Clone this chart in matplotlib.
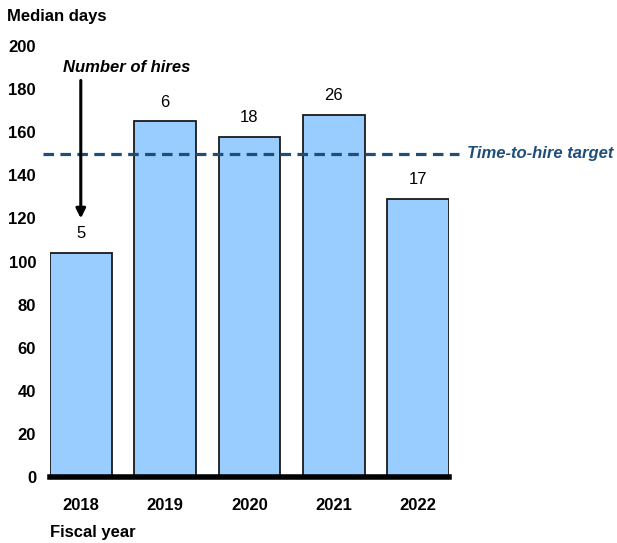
import matplotlib
matplotlib.use('Agg')
import matplotlib.pyplot as plt

plt.rcParams['font.family'] = ['Liberation Sans', 'DejaVu Sans']

years = ['2018', '2019', '2020', '2021', '2022']
median_days = [104, 165, 158, 168, 129]
hires = [5, 6, 18, 26, 17]
target_days = 150
y_ticks = [0, 20, 40, 60, 80, 100, 120, 140, 160, 180, 200]

BAR_COLOR = '#99ccff'
TARGET_COLOR = '#1f4e79'
BAR_WIDTH = 0.73
FS = 12

fig = plt.figure(figsize=(6.17, 5.43), dpi=100)
ax = fig.add_axes([50 / 617, (543 - 477) / 543, 399 / 617, 431 / 543])

x = list(range(len(years)))
ax.bar(x, median_days, width=BAR_WIDTH, color=BAR_COLOR,
       edgecolor='#1a1a1a', linewidth=1.3, zorder=2)

for xi, val, n in zip(x, median_days, hires):
    ax.text(xi, val + 9, str(n), ha='center', va='center', fontsize=FS)

# target line runs a little past the bars
ax.plot([-0.45, 4.48], [target_days, target_days], color=TARGET_COLOR,
        linestyle=(0, (3.3, 2.0)), linewidth=2.3, clip_on=False, zorder=3)
ax.text(4.58, target_days, 'Time-to-hire target', color=TARGET_COLOR,
        fontsize=FS, fontweight='bold', fontstyle='italic',
        ha='left', va='center', clip_on=False)

# number of hires annotation
ax.annotate('', xy=(0, 120), xytext=(0, 184),
            arrowprops=dict(arrowstyle='-|>', color='black', lw=2.2,
                            mutation_scale=14, shrinkA=0, shrinkB=0))
ax.text(0.54, 190, 'Number of hires', ha='center', va='center',
        fontsize=FS, fontweight='bold', fontstyle='italic')

ax.set_xlim(-BAR_WIDTH / 2, len(years) - 1 + BAR_WIDTH / 2)
ax.set_ylim(0, 200)
ax.set_yticks(y_ticks)
ax.set_xticks(x)
ax.set_xticklabels(years)
for lbl in ax.get_xticklabels() + ax.get_yticklabels():
    lbl.set_fontweight('bold')
    lbl.set_fontsize(FS)
ax.tick_params(axis='both', length=0)
ax.tick_params(axis='y', pad=10)
ax.tick_params(axis='x', pad=15)

for side in ['top', 'right', 'left']:
    ax.spines[side].set_visible(False)
ax.spines['bottom'].set_linewidth(4)
ax.spines['bottom'].set_color('black')
ax.spines['bottom'].set_zorder(4)

fig.text(7 / 617, 1 - 16 / 543, 'Median days', fontsize=FS,
         fontweight='bold', ha='left', va='center')
fig.text(50 / 617, 1 - 533 / 543, 'Fiscal year', fontsize=FS,
         fontweight='bold', ha='left', va='center')

fig.savefig('out.png', dpi=100)
